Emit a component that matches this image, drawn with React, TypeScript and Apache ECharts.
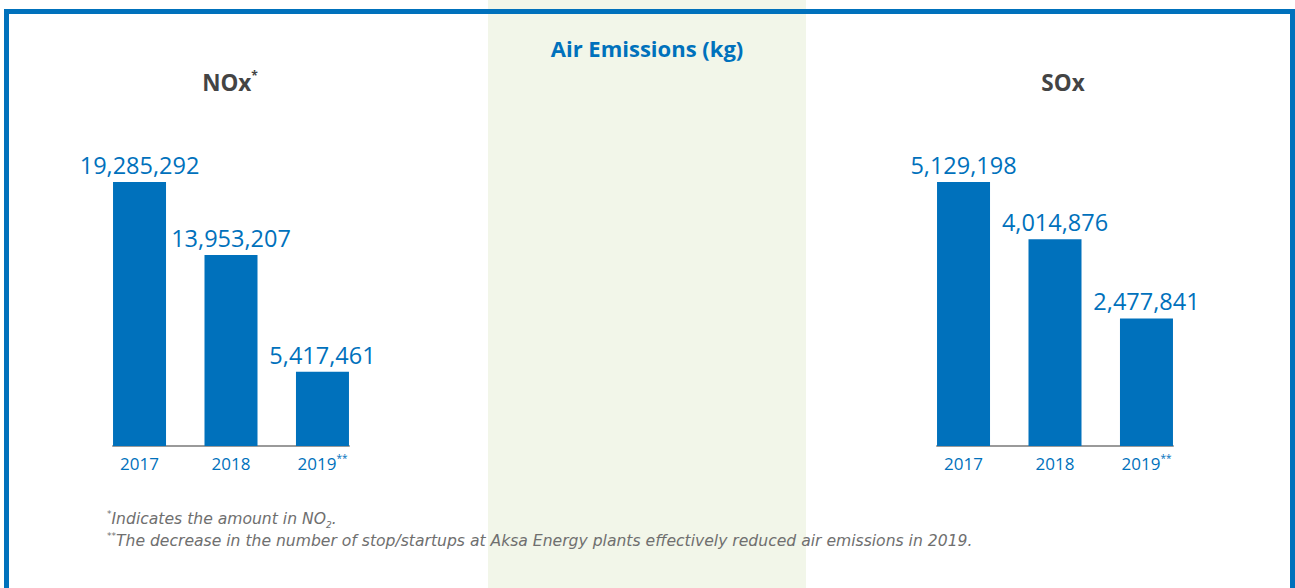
import React, { useEffect, useRef } from "react";
import * as echarts from "echarts";

const years = ["2017", "2018", "2019"];
const yearMarks = ["", "", "**"];
const noxValues = [19285292, 13953207, 5417461];
const soxValues = [5129198, 4014876, 2477841];
const chartTitle = "Air Emissions (kg)";
const noxTitle = "NOx";
const soxTitle = "SOx";
const footnote1 = "Indicates the amount in NO";
const footnote2 = "The decrease in the number of stop/startups at Aksa Energy plants effectively reduced air emissions in 2019.";

const BLUE = "#0071bc";
const FONT = "'Open Sans', 'Noto Sans', sans-serif";
const NOTE_FONT = "'DejaVu Sans', 'Open Sans', sans-serif";
const NOTE_COLOR = "#6f6f6f";

export default function App() {
  const ref = useRef<HTMLDivElement>(null);
  useEffect(() => {
    document.body.style.margin = "0";
    const chart = echarts.init(ref.current!, null, { renderer: "svg" });
    const fmt = (v: number) => v.toLocaleString("en-US");
    const xAxisFor = (gridIndex: number) => ({
      type: "value",
      gridIndex,
      min: -0.29,
      max: 2.29,
      splitLine: { show: false },
      axisTick: { show: false },
      axisLine: { show: true, onZero: false, lineStyle: { color: "#9a9a9a", width: 2 } },
      axisLabel: {
        customValues: [0, 1, 2],
        margin: 7,
        formatter: (v: number) => {
          const i = Math.round(v);
          return yearMarks[i] ? `{y|${years[i]}}{s|${yearMarks[i]}}` : `{y|${years[i]}}`;
        },
        rich: {
          y: { fontFamily: FONT, fontSize: 17, fontWeight: 500, color: BLUE, lineHeight: 20 },
          s: { fontFamily: FONT, fontSize: 10, color: BLUE, lineHeight: 10, verticalAlign: "top" },
        },
      },
    });
    const yAxisFor = (gridIndex: number) => ({
      type: "value",
      gridIndex,
      min: 0,
      max: (e: any) => e.max,
      show: false,
    });
    const seriesFor = (idx: number, vals: number[]) => ({
      type: "bar",
      xAxisIndex: idx,
      yAxisIndex: idx,
      barWidth: 53,
      itemStyle: { color: BLUE },
      label: {
        show: true,
        position: "top",
        distance: 5,
        color: BLUE,
        fontFamily: FONT,
        fontSize: 23.5,
        formatter: (p: any) => fmt(p.value[1]),
      },
      data: vals.map((v, i) => [i, v]),
    });
    const noteRich = {
      t: { fontFamily: NOTE_FONT, fontStyle: "italic", fontSize: 15.6, fill: NOTE_COLOR, lineHeight: 20 },
      s: { fontFamily: NOTE_FONT, fontStyle: "italic", fontSize: 9, fill: NOTE_COLOR, lineHeight: 9, verticalAlign: "top" },
      b: { fontFamily: NOTE_FONT, fontStyle: "italic", fontSize: 9, fill: NOTE_COLOR, lineHeight: 9, verticalAlign: "bottom" },
    };
    chart.setOption({
      animation: false,
      backgroundColor: "#ffffff",
      graphic: [
        { type: "rect", z: -10, shape: { x: 488, y: 0, width: 318, height: 588 }, style: { fill: "#f2f6e9" } },
        { type: "rect", z: 100, shape: { x: 6.5, y: 11.5, width: 1286, height: 640 }, style: { fill: "none", stroke: BLUE, lineWidth: 5 } },
        {
          type: "text",
          x: 107,
          y: 509,
          style: { text: `{s|*}{t|${footnote1}}{b|2}{t|.}`, rich: noteRich, fill: NOTE_COLOR },
        },
        {
          type: "text",
          x: 107,
          y: 531,
          style: { text: `{s|**}{t|${footnote2}}`, rich: noteRich, fill: NOTE_COLOR },
        },
      ],
      title: [
        {
          text: chartTitle,
          left: 647,
          top: 37,
          padding: 0,
          textAlign: "center",
          textStyle: { fontFamily: FONT, fontSize: 22, fontWeight: "bold", color: BLUE },
        },
        {
          text: `{a|${noxTitle}}{s|*}`,
          left: 230,
          top: 69,
          padding: 0,
          textAlign: "center",
          textStyle: {
            rich: {
              a: { fontFamily: FONT, fontSize: 22.5, fontWeight: "bold", color: "#444444", lineHeight: 26 },
              s: { fontFamily: FONT, fontSize: 12, fontWeight: "bold", color: "#444444", lineHeight: 12, verticalAlign: "top" },
            },
          },
        },
        {
          text: soxTitle,
          left: 1063,
          top: 69,
          padding: 0,
          textAlign: "center",
          textStyle: { fontFamily: FONT, fontSize: 22.5, fontWeight: "bold", color: "#444444", lineHeight: 26 },
        },
      ],
      grid: [
        { left: 113, width: 236, top: 182, height: 264 },
        { left: 937, width: 236, top: 182, height: 264 },
      ],
      xAxis: [xAxisFor(0), xAxisFor(1)],
      yAxis: [yAxisFor(0), yAxisFor(1)],
      series: [seriesFor(0, noxValues), seriesFor(1, soxValues)],
    });
    return () => chart.dispose();
  }, []);
  return <div ref={ref} style={{ position: "absolute", left: 0, top: 0, width: 1295, height: 588 }} />;
}
